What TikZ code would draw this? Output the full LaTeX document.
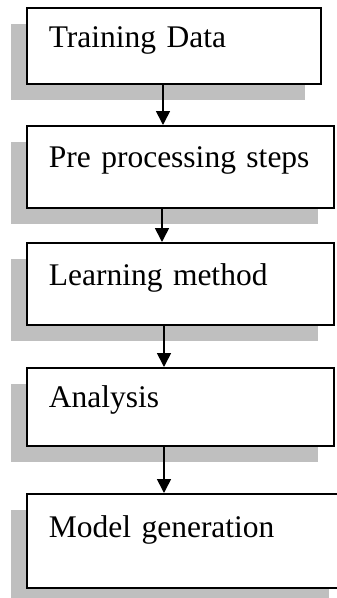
\documentclass[tikz,border=0pt]{standalone}
\usepackage{fontspec}
\setmainfont{Liberation Serif}
\usetikzlibrary{shadows,arrows.meta}
\definecolor{shadowgray}{RGB}{191,191,191}
\tikzset{
  stagebox/.style={draw=black, fill=white, line width=1.6pt, anchor=north west,
    inner xsep=22pt, inner ysep=0pt, align=left,
    font=\fontsize{31.5}{36}\selectfont,
    drop shadow={shadow xshift=-16pt, shadow yshift=-16pt, fill=shadowgray, opacity=1, draw=none}},
  flow/.style={line width=1.6pt, -{Triangle[width=14pt,length=14pt]}}
}
\begin{document}
\begin{tikzpicture}[x=1pt,y=-1pt]
\useasboundingbox (0,0) rectangle (337,598);
\clip (0,0) rectangle (337,598);
% stages of the pipeline
\node[stagebox, text width=250pt, text height=40pt, text depth=36pt] (b1) at (26,7) {Training Data};
\node[stagebox, text width=263pt, text height=42pt, text depth=40pt] (b2) at (26,125) {Pre processing steps};
\node[stagebox, text width=263pt, text height=43pt, text depth=39pt] (b3) at (26,242) {Learning method};
\node[stagebox, text width=263pt, text height=40pt, text depth=38pt] (b4) at (26,367) {Analysis};
\node[stagebox, text width=274pt, text height=44pt, text depth=50pt] (b5) at (26,493) {Model generation};
% connectors
\draw[flow] (163,0 |- b1.south) -- (163,0 |- b2.north);
\draw[flow] (162,0 |- b2.south) -- (162,0 |- b3.north);
\draw[flow] (164,0 |- b3.south) -- (164,0 |- b4.north);
\draw[flow] (164,0 |- b4.south) -- (164,0 |- b5.north);
\end{tikzpicture}
\end{document}
